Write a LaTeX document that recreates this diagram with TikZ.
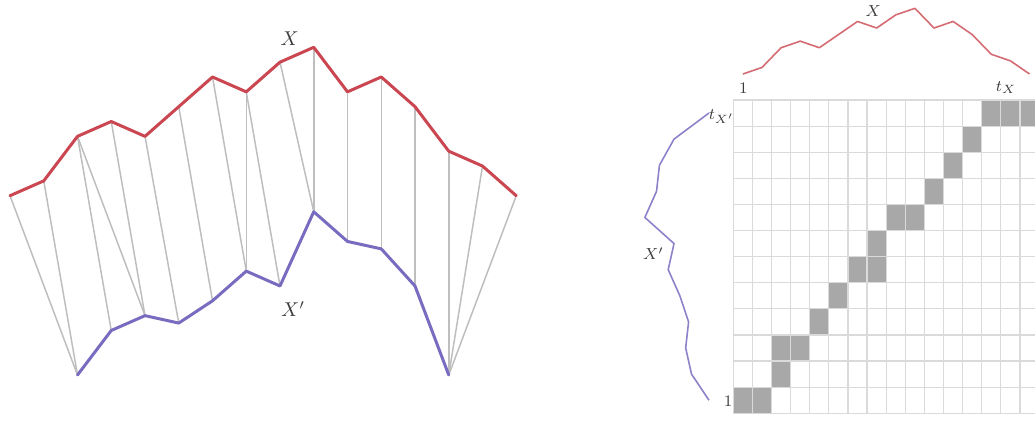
\documentclass[tikz,border=0pt]{standalone}
\usetikzlibrary{calc}
\definecolor{xred}{RGB}{202,70,80}
\definecolor{xblue}{RGB}{120,108,192}
\definecolor{linkgray}{RGB}{190,190,190}
\definecolor{gridgray}{RGB}{218,218,218}
\definecolor{cellgray}{RGB}{168,168,168}
\definecolor{labelgray}{RGB}{60,60,60}
\begin{document}
\begin{tikzpicture}[x=0.5pt,y=-0.5pt,
  seriesX/.style={xred,line width=1.5pt,line join=round,line cap=round},
  seriesY/.style={xblue,line width=1.5pt,line join=round,line cap=round},
  thinX/.style={xred!80,line width=0.8pt,line join=round},
  thinY/.style={xblue!85,line width=0.8pt,line join=round},
  link/.style={linkgray,line width=0.75pt},
  gridline/.style={gridgray,line width=0.6pt},
  cell/.style={fill=cellgray},
  biglabel/.style={text=labelgray,font=\fontsize{10}{12}\selectfont,inner sep=0pt},
  smalllabel/.style={text=labelgray,font=\fontsize{8}{10}\selectfont,inner sep=0pt}]
\useasboundingbox (0,0) rectangle (1035,420);
\clip (0,0) rectangle (1035,420);

% ---------- left: aligned series ----------
\foreach \v [count=\i] in {0,1,4,5,4,6,8,7,9,10,7,8,6,3,2,0}
  \coordinate (r\i) at ({10+33.75*(\i-1)},{195.7-14.84*\v});
\foreach \v [count=\j] in {0,3,4,3.5,5,7,6,11,9,8.5,6,0}
  \coordinate (b\j) at ({10+33.75*(\j+1)},{375-14.84*\v});

\foreach \a/\b in {1/1,2/1,3/2,3/3,4/3,5/4,6/5,7/6,8/6,8/7,9/8,10/8,11/9,12/10,13/11,14/12,15/12,16/12}
  \draw[link] (r\a) -- (b\b);

\draw[seriesX] (r1) \foreach \i in {2,...,16}{ -- (r\i)};
\draw[seriesY] (b1) \foreach \j in {2,...,12}{ -- (b\j)};

\node[biglabel] (labX) at (289.7,39) {$X$};
\node[biglabel] (labXp) at (293,309) {$X'$};

% ---------- right: cost matrix ----------
\foreach \c/\r in {1/1,2/1,3/2,3/3,4/3,5/4,6/5,7/6,8/6,8/7,9/8,10/8,11/9,12/10,13/11,14/12,15/12,16/12}
  \fill[cellgray] ({733.3+19.11*(\c-1)},{413.3-26.11*(\r-1)}) rectangle ({733.3+19.11*\c},{413.3-26.11*\r});
\foreach \c in {0,...,16}
  \draw[gridline] ({733.3+19.11*\c},100) -- ({733.3+19.11*\c},413.3);
\foreach \r in {0,...,12}
  \draw[gridline] (733.3,{413.3-26.11*\r}) -- ({733.3+19.11*16},{413.3-26.11*\r});

\foreach \v [count=\i] in {0,1,4,5,4,6,8,7,9,10,7,8,6,3,2,0}
  \coordinate (p\i) at ({742.9+19.11*(\i-1)},{74-6.57*\v});
\foreach \v [count=\j] in {0,3,4,3.5,5,7,6,11,9,8.5,6,0}
  \coordinate (q\j) at ({709-5.83*\v},{400.2-26.11*(\j-1)});

\draw[thinX] (p1) \foreach \i in {2,...,16}{ -- (p\i)};
\draw[thinY] (q1) \foreach \j in {2,...,12}{ -- (q\j)};

\node[smalllabel] (rX) at (873.3,11) {$X$};
\node[smalllabel] (one1) at (743.3,88) {$1$};
\node[smalllabel] (tX) at (1006,87.5) {$t_X$};
\node[smalllabel] (tXp) at (721.5,116.5) {$t_{X'}$};
\node[smalllabel] (rXp) at (653.5,253.5) {$X'$};
\node[smalllabel] (one2) at (728,401.5) {$1$};
\end{tikzpicture}
\end{document}
